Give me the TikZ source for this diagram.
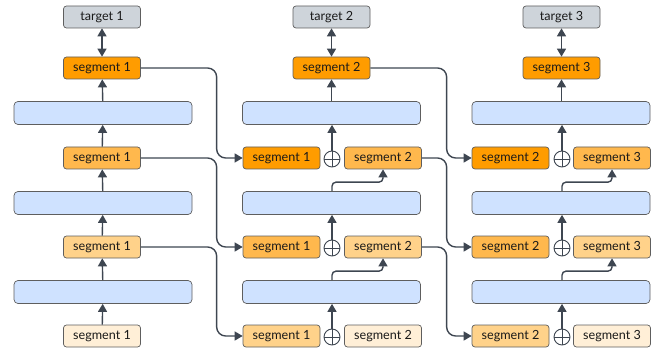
\documentclass[tikz,border=0pt]{standalone}
\usepackage{fontspec}
\setmainfont{Lato}
\usetikzlibrary{arrows.meta,calc}
\definecolor{segA}{HTML}{FF9C00}
\definecolor{segB}{HTML}{FFB84D}
\definecolor{segC}{HTML}{FFD28A}
\definecolor{segD}{HTML}{FFEFD7}
\definecolor{barfill}{HTML}{CFE2FF}
\definecolor{tgtfill}{HTML}{CED4DA}
\definecolor{edge}{HTML}{5E5E5E}
\definecolor{arrc}{HTML}{3E4651}
\tikzset{
  box/.style={draw=edge, line width=0.7pt, rounded corners=3pt, minimum width=77pt, minimum height=22pt, inner sep=0pt, font=\fontsize{12.6pt}{14pt}\selectfont, text=black!90},
  segbox/.style={box, fill=#1},
  tgtbox/.style={box, fill=tgtfill},
  barbox/.style={draw=edge, line width=0.7pt, rounded corners=4pt, fill=barfill, minimum width=178pt, minimum height=23pt, inner sep=0pt},
  plusnode/.style={circle, draw=arrc, line width=0.9pt, minimum size=16pt, inner sep=0pt,
    path picture={\draw[arrc, line width=0.9pt] (path picture bounding box.north) -- (path picture bounding box.south) (path picture bounding box.west) -- (path picture bounding box.east);}},
  arr/.style={draw=arrc, line width=1.4pt, -{Triangle[length=8pt,width=9pt]}},
  darr/.style={draw=arrc, line width=1.4pt, {Triangle[length=8pt,width=9pt]}-{Triangle[length=8pt,width=9pt]}},
}
\begin{document}
\begin{tikzpicture}[x=1pt,y=-1pt]
\useasboundingbox (0,0) rectangle (667,350);
% column 1
\node[tgtbox] (t1) at (102,17) {target 1};
\node[segbox=segA] (a1) at (102,68) {segment 1};
\node[barbox] (ab1) at (103,113) {};
\node[segbox=segB] (a2) at (102,158) {segment 1};
\node[barbox] (ab2) at (103,203) {};
\node[segbox=segC] (a3) at (102,247) {segment 1};
\node[barbox] (ab3) at (103,292) {};
\node[segbox=segD] (a4) at (102,336) {segment 1};
\draw[darr] (t1) -- (a1);
\draw[arr] (ab1) -- (a1);
\draw[arr] (a2) -- (ab1);
\draw[arr] (ab2) -- (a2);
\draw[arr] (a3) -- (ab2);
\draw[arr] (ab3) -- (a3);
\draw[arr] (a4) -- (ab3);
% column 2
\node[tgtbox] (t2) at (331.5,17) {target 2};
\node[segbox=segA] (b1) at (331.5,68) {segment 2};
\node[barbox] (bb1) at (331.5,113) {};
\node[segbox=segA] (b2l) at (281.5,158) {segment 1};
\node[plusnode] (b2p) at (332,159) {};
\node[segbox=segB] (b2r) at (383,158) {segment 2};
\node[barbox] (bb2) at (331.5,203) {};
\node[segbox=segB] (b3l) at (281.5,247) {segment 1};
\node[plusnode] (b3p) at (332,248) {};
\node[segbox=segC] (b3r) at (383,247) {segment 2};
\node[barbox] (bb3) at (331.5,292) {};
\node[segbox=segC] (b4l) at (281.5,336) {segment 1};
\node[plusnode] (b4p) at (332,337) {};
\node[segbox=segD] (b4r) at (383,336) {segment 2};
\draw[darr] (t2) -- (b1);
\draw[arr] (bb1) -- (b1);
\draw[arr] (b2p) -- (bb1.south -| b2p);
\draw[arr, rounded corners=4pt] (bb2.north -| b2p) -- ++(0,-9) -| (b2r.south);
\draw[arr] (b3p) -- (bb2.south -| b3p);
\draw[arr, rounded corners=4pt] (bb3.north -| b3p) -- ++(0,-9) -| (b3r.south);
\draw[arr] (b4p) -- (bb3.south -| b4p);
% column 3
\node[tgtbox] (t3) at (561.5,17) {target 3};
\node[segbox=segA] (c1) at (561.5,68) {segment 3};
\node[barbox] (cb1) at (561,113) {};
\node[segbox=segA] (c2l) at (510.5,158) {segment 2};
\node[plusnode] (c2p) at (562,159) {};
\node[segbox=segB] (c2r) at (612,158) {segment 3};
\node[barbox] (cb2) at (561,203) {};
\node[segbox=segB] (c3l) at (510.5,247) {segment 2};
\node[plusnode] (c3p) at (562,248) {};
\node[segbox=segC] (c3r) at (612,247) {segment 3};
\node[barbox] (cb3) at (561,292) {};
\node[segbox=segC] (c4l) at (510.5,336) {segment 2};
\node[plusnode] (c4p) at (562,337) {};
\node[segbox=segD] (c4r) at (612,336) {segment 3};
\draw[darr] (t3) -- (c1);
\draw[arr] (cb1.north -| c1) -- (c1);
\draw[arr] (c2p) -- (cb1.south -| c2p);
\draw[arr, rounded corners=4pt] (cb2.north -| c2p) -- ++(0,-9) -| (c2r.south);
\draw[arr] (c3p) -- (cb2.south -| c3p);
\draw[arr, rounded corners=4pt] (cb3.north -| c3p) -- ++(0,-9) -| (c3r.south);
\draw[arr] (c4p) -- (cb3.south -| c4p);
% cross-column connectors
\draw[arr, rounded corners=9pt] (a1.east) -| ($(b2l.west)+(-26,0)$) -- (b2l.west);
\draw[arr, rounded corners=9pt] (a2.east) -| ($(b3l.west)+(-26,0)$) -- (b3l.west);
\draw[arr, rounded corners=9pt] (a3.east) -| ($(b4l.west)+(-26,0)$) -- (b4l.west);
\draw[arr, rounded corners=9pt] (b1.east) -| ($(c2l.west)+(-25,0)$) -- (c2l.west);
\draw[arr, rounded corners=9pt] (b2r.east) -| ($(c3l.west)+(-25,0)$) -- (c3l.west);
\draw[arr, rounded corners=9pt] (b3r.east) -| ($(c4l.west)+(-25,0)$) -- (c4l.west);
\end{tikzpicture}
\end{document}
